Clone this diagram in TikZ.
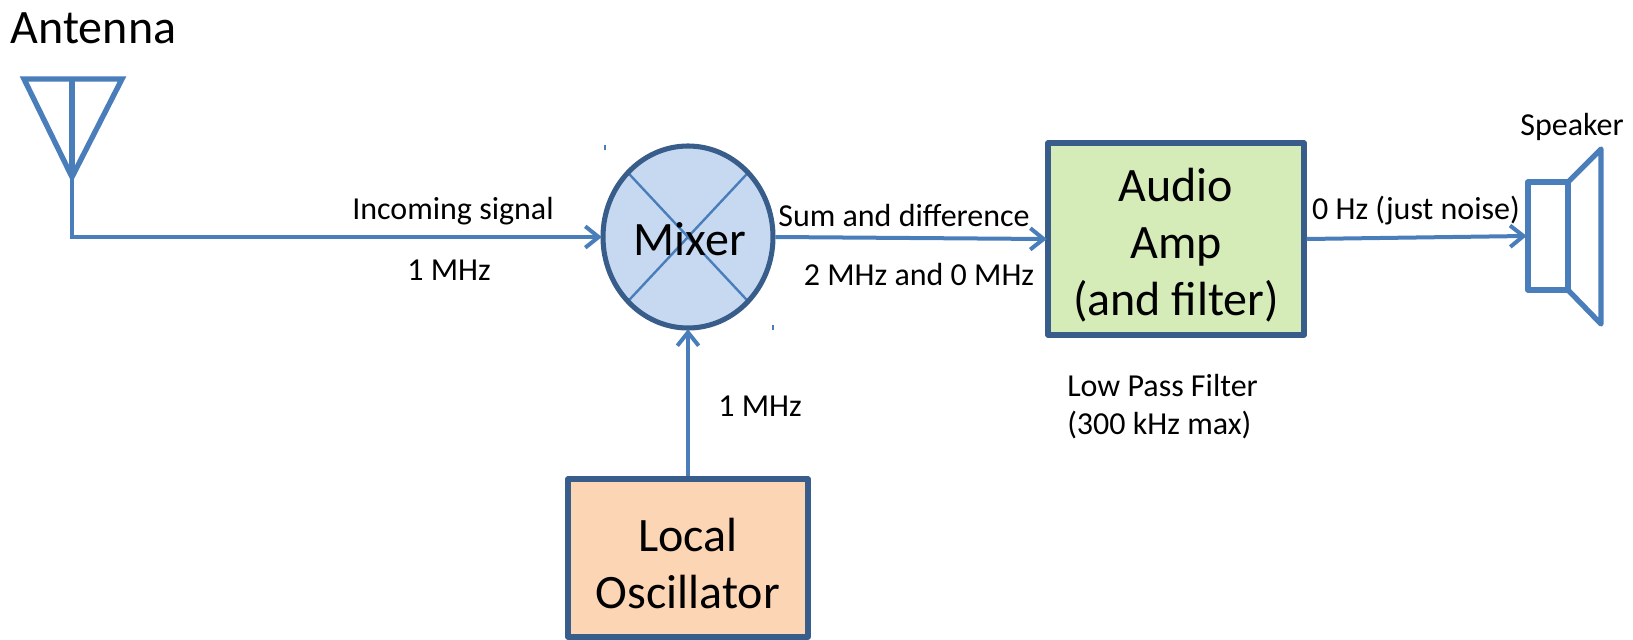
\documentclass[tikz,border=0pt]{standalone}
\usepackage{fontspec}
\setmainfont{Carlito}
\usetikzlibrary{shapes.geometric,arrows.meta,positioning}
\definecolor{wire-bl}{HTML}{4A7EBB}
\definecolor{edge-bl}{HTML}{385D8A}
\definecolor{mixer-bl}{HTML}{C6D9F1}
\definecolor{amp-gr}{HTML}{D5ECB9}
\definecolor{osc-or}{HTML}{FCD5B5}
\tikzstyle{wire}=[draw=wire-bl,line width=3pt]
\tikzstyle{thickwire}=[draw=wire-bl,line width=4pt]
\tikzstyle{arrow}=[wire,-{Straight Barb[length=10pt,width=16pt,line width=3pt]},shorten >=-1pt]
\tikzstyle{big}=[align=center,font=\fontsize{36}{43}\selectfont,inner sep=0pt]
\tikzstyle{block}=[draw=edge-bl,line width=3.8pt,line join=round,rectangle,outer sep=1.9pt]
\tikzstyle{note}=[align=left,font=\fontsize{24}{28.5}\selectfont,inner sep=0pt]
\tikzstyle{mix}=[ellipse,draw=edge-bl,line width=3.8pt,fill=mixer-bl,inner sep=0pt,outer sep=1.9pt,path picture={
  \draw[wire-bl,line width=1.8pt] (path picture bounding box.north west) -- (path picture bounding box.south east);
  \draw[wire-bl,line width=1.8pt] (path picture bounding box.north east) -- (path picture bounding box.south west);
}]

\begin{document}
\begin{tikzpicture}[x=0.75pt,y=-0.75pt]
  \useasboundingbox (0,0) rectangle (1633,639);

  \node[big] at (93.5,28) (antlabel) {Antenna};

  % antenna
  \coordinate (anttip) at (72,177);
  \draw[thickwire,line join=miter] (24,79) -- (122,79) -- (anttip) -- cycle;
  \draw[thickwire] (72,79) -- (anttip);

  \node[mix,minimum width=127.5pt,minimum height=136.5pt,label={[big,xshift=1.5pt,yshift=-1.5pt]center:Mixer}] at (688,237) (mixer) {};

  \node[block,fill=amp-gr,minimum width=192pt,minimum height=144pt,label={[big,yshift=-4.5pt]center:Audio\\Amp\\(and filter)}] at (1176,239) (amp) {};
  \node[block,fill=osc-or,minimum width=180pt,minimum height=118.5pt,label={[big,yshift=-4pt]center:Local\\Oscillator}] at (688,558) (osc) {};

  % speaker
  \node[thickwire,line join=round,minimum width=30pt,minimum height=81pt,inner sep=0pt,outer sep=2pt] at (1548,236) (spk) {};
  \draw[thickwire,line join=round] (1568,182) -- (1601,149) -- (1601,324) -- (1568,290);
  \node[note] at (1572,127) (spklabel) {Speaker};

  % connections
  \draw[arrow] (anttip) |- (mixer.west);
  \draw[arrow] (osc.north) -- (mixer.south);
  \draw[arrow] (mixer.east) -- (amp.west);
  \draw[arrow] (amp.east) -- (spk.west);

  \node[note] at (453,211) (insig) {Incoming signal};
  \node[note] at (449,270) (infreq) {1 MHz};
  \node[note] at (904,216) (sumdiff) {Sum and difference};
  \node[note] at (919,275) (sumfreq) {2 MHz and 0 MHz};
  \node[note] at (1416,211) (noise) {0 Hz (just noise)};
  \node[note] at (760,406) (lofreq) {1 MHz};
  \node[note,anchor=west] at (1067,407) (lpf) {Low Pass Filter\\(300 kHz max)};

  \draw[wire-bl,line width=1pt] (605,145) -- (605,150);
  \draw[wire-bl,line width=1pt] (773,325) -- (773,330);

\end{tikzpicture}
\end{document}
